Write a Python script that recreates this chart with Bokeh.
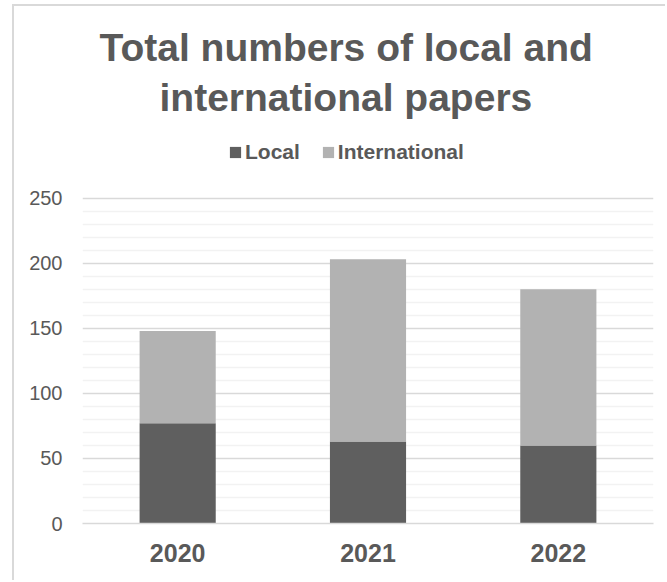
from bokeh.plotting import figure
from bokeh.models import FactorRange, FixedTicker, Legend, LegendItem, Title
from bokeh.embed import file_html
from bokeh.resources import INLINE

years = ["2020", "2021", "2022"]
local = [77, 63, 60]
international = [71, 140, 120]
series = ["Local", "International"]
colors = ["#5f5f5f", "#b2b2b2"]
title_lines = ["Total numbers of local and", "international papers"]
y_ticks = [0, 50, 100, 150, 200, 250]
y_minor = [v for v in range(0, 251, 10) if v % 50 != 0]

FONT = "Liberation Sans"
TXT = "#595959"

data = dict(years=years, Local=local, International=international)

# frame extends above the 250 line so the legend can sit inside it
p = figure(x_range=FactorRange(*years, range_padding=0), y_range=(0, 302),
           width=653, height=576, output_backend="svg", toolbar_location=None,
           title_location=None,
           min_border_left=68, min_border_right=14, min_border_top=124, min_border_bottom=59)
p.styles = {"margin-left": "12px", "margin-top": "4px",
            "border-left": "2px solid #d9d9d9", "border-top": "2px solid #d9d9d9"}

rs = p.vbar_stack(series, x="years", width=0.4, source=data,
                  color=colors, line_color=None)

p.outline_line_color = None
p.background_fill_color = "white"
p.border_fill_color = "white"

ticker = FixedTicker(ticks=y_ticks, minor_ticks=y_minor)
p.yaxis.ticker = ticker
p.ygrid.ticker = ticker
p.ygrid.grid_line_color = "#d9d9d9"
p.ygrid.grid_line_width = 1.3
p.ygrid.minor_grid_line_color = "#f2f2f2"
p.ygrid.minor_grid_line_width = 1.3
p.xgrid.grid_line_color = None

p.yaxis.axis_line_color = None
p.yaxis.major_tick_line_color = None
p.yaxis.minor_tick_line_color = None
p.yaxis.major_tick_out = 0
p.yaxis.minor_tick_out = 0
p.yaxis.major_label_text_font = FONT
p.yaxis.major_label_text_font_size = "20px"
p.yaxis.major_label_text_color = TXT
p.yaxis.major_label_standoff = 20

p.xaxis.axis_line_color = "#d9d9d9"
p.xaxis.axis_line_width = 1.3
p.xaxis.major_tick_line_color = None
p.xaxis.minor_tick_line_color = None
p.xaxis.major_tick_out = 0
p.xaxis.minor_tick_out = 0
p.xaxis.major_label_text_font = FONT
p.xaxis.major_label_text_font_size = "25px"
p.xaxis.major_label_text_font_style = "bold"
p.xaxis.major_label_text_color = TXT
p.xaxis.major_label_standoff = 20

lg = Legend(items=[LegendItem(label=s, renderers=[r]) for s, r in zip(series, rs)],
            orientation="horizontal", location=(146, 359), padding=0, margin=0,
            spacing=21, border_line_color=None, background_fill_alpha=0,
            glyph_width=14, glyph_height=14, label_standoff=3,
            label_text_font=FONT, label_text_font_size="21px",
            label_text_font_style="bold", label_text_color=TXT)
p.add_layout(lg, "center")

offsets = [17, 77]
standoffs = [-15, 24]
for line, off, so in reversed(list(zip(title_lines, offsets, standoffs))):
    t = Title(text=line, align="left", offset=off, standoff=so,
              text_font=FONT, text_font_size="39px", text_font_style="bold",
              text_color=TXT)
    p.add_layout(t, "above")

open("out.html", "w").write(file_html(p, INLINE))
